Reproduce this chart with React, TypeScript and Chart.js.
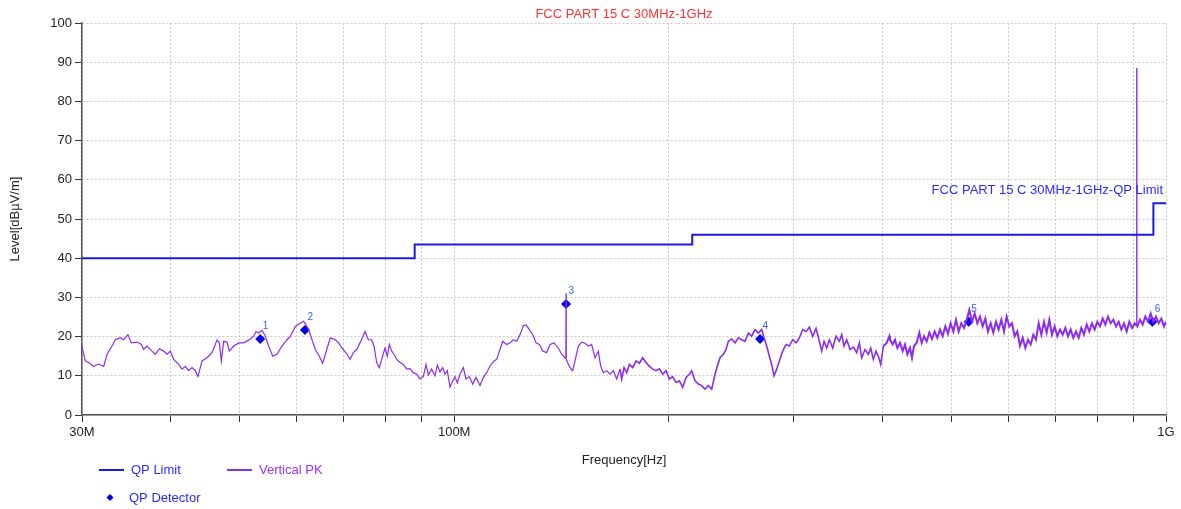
import React, { useEffect, useRef } from 'react';
import { Chart, registerables } from 'chart.js';

Chart.register(...registerables);

// ---- data ----
const PK_FREQ_MHZ = [
  30.0, 30.32, 30.65, 31.16, 31.66, 32.18, 32.53, 33.06, 33.42, 33.96, 34.33, 34.81, 35.19, 35.84, 36.35, 36.62,
  37.02, 37.62, 38.03, 38.53, 39.07, 39.49, 39.92, 40.35, 41.01, 41.46, 41.91, 42.36, 42.82, 43.28, 43.66, 44.23,
  44.95, 45.68, 46.43, 46.78, 47.08, 47.44, 47.95, 48.32, 49.0, 49.8, 50.61, 51.44, 52.28, 52.67, 53.13, 53.7,
  54.17, 54.87, 55.59, 56.37, 57.29, 58.23, 58.86, 59.82, 60.79, 61.45, 61.92, 62.45, 63.13, 63.81, 64.65, 65.35,
  65.91, 66.99, 68.08, 68.82, 69.56, 70.7,
  71.39, 72.16, 72.95, 73.74, 74.94, 75.75, 76.57, 77.15, 77.82, 78.5, 79.09, 79.95, 80.56, 81.08, 81.7, 82.31,
  83.03, 83.93, 84.84, 85.75, 86.68, 87.62, 88.57, 89.53, 90.5, 91.29, 91.98, 92.97, 93.99, 94.69, 95.51, 96.34,
  97.07, 97.8, 98.65, 99.51, 100.26, 101.02, 101.9, 103.0, 103.89, 105.02, 106.16, 107.31, 108.71, 109.89, 111.08,
  112.29, 113.75, 114.74, 115.97, 116.98, 118.51, 119.79, 121.09, 122.41, 123.73, 125.08, 126.16, 127.53, 128.9,
  130.3, 131.71, 133.14, 134.88, 136.33, 138.11, 140.06, 141.58, 143.11, 143.5, 143.6, 143.7, 144.2, 145.45,
  146.71, 147.82, 149.43, 151.05, 152.68, 154.34, 156.01, 157.7, 159.41, 160.61, 162.0, 163.76, 165.54, 167.33,
  169.15,
  171.0, 171.92, 173.22, 174.73, 176.25, 178.16, 180.08, 182.03, 184.0, 186.01, 188.03, 190.05, 192.12, 194.2,
  196.31, 198.43, 200.58, 202.75, 204.96, 207.18, 209.42, 211.7, 213.99, 215.61, 217.96, 220.32, 222.69, 225.12,
  227.55, 230.01, 232.51, 234.27, 236.3, 238.87, 240.94, 242.77, 245.4, 248.05, 250.74, 253.46, 256.21, 258.98,
  261.78, 264.64, 267.5, 270.4, 272.47, 274.83, 277.21, 279.29, 281.41, 283.86, 286.31, 289.42, 292.55, 295.73,
  298.94, 302.19, 305.46, 308.76, 312.11, 315.5, 318.92, 322.37, 325.86, 328.34, 330.82, 333.69, 336.58, 340.22,
  343.92, 347.63, 350.28, 352.93, 355.99, 359.84, 363.75, 367.68, 370.86, 373.69, 377.74, 381.83, 384.72, 388.05,
  391.42, 394.39, 397.37, 400.81, 405.17, 408.67,
  409.5, 413.05, 416.19, 419.33, 422.97, 426.65, 429.85, 433.13, 436.86, 439.68, 442.55, 446.4, 450.29, 453.69,
  457.12, 461.1, 465.07, 469.12, 473.18, 477.27, 481.41, 485.54, 489.76, 494.02, 498.28, 502.62, 506.96, 511.34,
  515.81, 520.27, 524.77, 529.32, 533.91, 538.53, 543.2, 547.87, 552.62, 557.41, 562.24, 567.12, 572.03, 576.99,
  581.98, 587.02, 592.1, 597.21, 602.42, 607.62, 612.9, 618.22, 623.59, 628.99, 634.44, 639.93, 645.45, 651.06,
  656.72, 662.41, 668.14, 673.91, 679.77, 685.63, 691.56, 697.58, 703.6, 709.75, 715.89, 722.07, 728.34, 734.64,
  740.99, 747.42, 753.89, 760.4, 767.0, 773.63, 780.34, 787.1, 793.9, 800.78, 807.74, 814.74, 821.78, 828.91,
  836.08, 843.32, 850.65, 857.98, 865.48, 872.97, 880.51, 888.12, 895.82, 903.6, 908.8, 909.5, 910.2, 911.42,
  919.33, 927.27, 935.34, 943.45, 951.6, 959.83, 968.18, 976.58, 985.05, 993.57, 1000.0,
];

const PK_LEVEL = [
  17.5, 13.8, 13.4, 12.4, 13.0, 12.4, 15.5, 17.6, 19.2, 19.7, 19.2, 20.5, 18.4, 18.6, 18.0, 16.7,
  17.6, 16.3, 15.5, 16.9, 16.3, 15.5, 16.3, 14.2, 12.9, 11.7, 12.4, 11.3, 12.1, 11.3, 9.8, 13.8,
  14.6, 15.9, 19.1, 18.4, 13.8, 18.8, 18.6, 16.3, 17.6, 18.4, 18.4, 19.1, 20.1, 21.3, 20.9, 21.6,
  20.5, 17.6, 15.0, 15.5, 17.6, 19.2, 20.1, 22.6, 23.4, 23.9, 23.0, 21.8, 19.2, 16.7, 15.0, 13.2,
  15.5, 19.7, 19.2, 18.4, 17.1, 15.5,
  14.2, 15.9, 16.7, 18.4, 21.3, 19.2, 19.2, 17.6, 13.4, 12.1, 14.2, 17.1, 15.0, 18.0, 16.3, 15.5,
  14.2, 13.4, 12.9, 11.7, 11.8, 10.8, 10.4, 9.2, 9.8, 12.9, 10.2, 11.7, 10.0, 12.7, 11.0, 12.1,
  10.4, 11.3, 7.1, 8.7, 9.8, 8.2, 10.4, 12.1, 9.2, 9.8, 7.9, 9.6, 7.5, 9.6, 10.8,
  12.5, 13.8, 14.2, 16.7, 18.8, 18.0, 18.4, 19.2, 18.8, 20.5, 22.8, 23.0, 21.8, 20.5,
  18.4, 18.0, 16.3, 15.9, 18.0, 18.4, 17.1, 15.5, 14.6, 14.4, 31.0, 14.2, 13.5, 12.1,
  11.3, 13.8, 17.6, 18.6, 18.3, 17.6, 18.0, 14.6, 16.3, 12.5, 10.8, 11.3, 10.4, 11.3,
  9.2,
  11.7, 9.2, 12.1, 10.8, 12.9, 12.1, 13.8, 13.2, 14.6, 13.4, 12.4, 11.7, 11.3, 11.8,
  10.4, 11.3, 9.2, 9.8, 8.3, 8.7, 7.1, 9.6, 10.4, 11.3, 8.7, 7.9, 7.5, 6.6,
  7.5, 6.6, 10.4, 12.5, 14.6, 15.5, 16.7, 18.8, 19.4, 18.4, 19.7, 19.2, 18.8, 20.9,
  20.1, 21.8, 20.9, 21.8, 19.7, 17.6, 15.0, 12.9, 10.0, 11.7, 13.8, 16.3, 18.0, 17.6,
  19.2, 18.4, 19.7, 21.8, 21.3, 22.4, 20.1, 22.1, 18.8, 16.3, 18.8, 17.1, 19.2, 17.1,
  20.1, 18.8, 20.5, 17.6, 19.2, 16.7, 17.3, 15.9, 18.4, 14.6, 16.7, 15.5, 17.1, 14.2,
  16.3, 15.0, 12.9, 17.6, 18.4, 20.1,
  19.2, 18.0, 19.2, 17.1, 18.4, 16.3, 18.0, 15.5, 17.1, 14.6, 17.6, 18.4, 21.0, 18.4,
  20.1, 18.8, 21.0, 19.4, 21.3, 19.7, 21.8, 20.1, 22.6, 20.7, 23.4, 21.3, 24.3, 21.3,
  23.4, 22.2, 24.3, 26.8, 23.8, 25.9, 23.4, 25.1, 22.6, 24.6, 21.3, 23.4, 21.0, 23.8,
  21.8, 24.3, 21.3, 25.1, 22.6, 23.4, 20.1, 21.3, 17.6, 19.7, 17.1, 19.2, 18.0, 20.5,
  19.2, 23.4, 20.5, 23.8, 21.0, 24.3, 20.5, 22.6, 20.1, 21.8, 20.5, 22.2, 20.1, 21.8,
  19.7, 21.3, 19.7, 22.2, 20.5, 23.1, 21.3, 23.4, 21.8, 23.8, 22.6, 24.6, 23.1, 25.1,
  23.4, 24.3, 22.6, 23.8, 21.8, 23.4, 21.3, 23.8, 22.2, 23.4, 22.8, 88.5, 22.8, 22.6,
  24.3, 23.1, 25.1, 23.8, 25.9, 23.8, 25.1, 23.4, 24.6, 22.6, 23.8,
];

const LIMIT_FREQ_MHZ = [30, 88, 88, 216, 216, 960, 960, 1000];
const LIMIT_LEVEL = [40, 40, 43.5, 43.5, 46, 46, 54, 54];

const QP_FREQ_MHZ = [53.4, 61.7, 143.6, 269.0, 528.2, 956.8];
const QP_LEVEL = [19.4, 21.7, 28.3, 19.4, 23.8, 23.8];
const QP_NUMBERS = ['1', '2', '3', '4', '5', '6'];

const X_TICKS = [30, 40, 50, 60, 70, 80, 90, 100, 200, 300, 400, 500, 600, 700, 800, 900, 1000];
const X_TICK_TEXT: Record<number, string> = { 30: '30M', 100: '100M', 1000: '1G' };
const Y_TICKS = [0, 10, 20, 30, 40, 50, 60, 70, 80, 90, 100];

const TITLE = 'FCC PART 15 C 30MHz-1GHz';
const LIMIT_NAME = 'FCC PART 15 C 30MHz-1GHz-QP Limit';
const X_TITLE = 'Frequency[Hz]';
const Y_TITLE = 'Level[dBµV/m]';
const LEGEND_NAMES = ['QP Limit', 'Vertical PK', 'QP Detector'];

const FONT = '"Liberation Sans", Arial, Helvetica, sans-serif';
const FS = 13;
const C_LIMIT = '#1a1ae6';
const C_PK = '#8c2cf0';
const C_QP = '#0000e6';

const overlayPlugin = {
  id: 'overlay',
  afterDraw(chart: any) {
    const ctx = chart.ctx as CanvasRenderingContext2D;
    const ca = chart.chartArea;
    const xs = chart.scales.x;
    const ys = chart.scales.y;
    ctx.save();

    // title
    ctx.font = `${FS}px ${FONT}`;
    ctx.fillStyle = '#ff3333';
    ctx.textAlign = 'center';
    ctx.textBaseline = 'middle';
    ctx.fillText(TITLE, (ca.left + ca.right) / 2, 14);

    // axis titles
    ctx.fillStyle = '#222';
    ctx.fillText(X_TITLE, (ca.left + ca.right) / 2, 460);
    ctx.save();
    ctx.translate(15, (ca.top + ca.bottom) / 2);
    ctx.rotate(-Math.PI / 2);
    ctx.fillText(Y_TITLE, 0, 0);
    ctx.restore();

    // limit label
    ctx.fillStyle = '#2a2aff';
    ctx.textAlign = 'right';
    ctx.fillText(LIMIT_NAME, xs.getPixelForValue(1000) - 3, ys.getPixelForValue(54) - 13);

    // marker numbers
    const meta = chart.getDatasetMeta(2);
    ctx.font = `10px ${FONT}`;
    ctx.fillStyle = '#3f5bff';
    ctx.textAlign = 'left';
    meta.data.forEach((el: any, i: number) => {
      ctx.fillText(QP_NUMBERS[i], el.x + 2.5, el.y - 12.5);
    });

    // legend
    ctx.font = `${FS}px ${FONT}`;
    ctx.lineWidth = 2;
    ctx.strokeStyle = C_LIMIT;
    ctx.beginPath();
    ctx.moveTo(99, 470);
    ctx.lineTo(124, 470);
    ctx.stroke();
    ctx.fillStyle = '#2a2aff';
    ctx.fillText(LEGEND_NAMES[0], 131, 470);

    ctx.strokeStyle = C_PK;
    ctx.beginPath();
    ctx.moveTo(227, 470);
    ctx.lineTo(252, 470);
    ctx.stroke();
    ctx.fillStyle = '#9b30ff';
    ctx.fillText(LEGEND_NAMES[1], 259, 470);

    ctx.fillStyle = C_QP;
    ctx.beginPath();
    ctx.moveTo(110, 494);
    ctx.lineTo(113.5, 497.5);
    ctx.lineTo(110, 501);
    ctx.lineTo(106.5, 497.5);
    ctx.closePath();
    ctx.fill();
    ctx.fillStyle = '#2a2aff';
    ctx.fillText(LEGEND_NAMES[2], 129, 498);

    ctx.restore();
  },
};

export default function App() {
  const canvasRef = useRef<HTMLCanvasElement | null>(null);

  useEffect(() => {
    if (!canvasRef.current) return;
    const pk = PK_FREQ_MHZ.map((f, i) => ({ x: f, y: PK_LEVEL[i] }));
    const lim = LIMIT_FREQ_MHZ.map((f, i) => ({ x: f, y: LIMIT_LEVEL[i] }));
    const qp = QP_FREQ_MHZ.map((f, i) => ({ x: f, y: QP_LEVEL[i] }));

    const chart = new Chart(canvasRef.current, {
      type: 'line',
      data: {
        datasets: [
          {
            label: LEGEND_NAMES[0],
            data: lim,
            borderColor: C_LIMIT,
            borderWidth: 2,
            pointRadius: 0,
            tension: 0,
          },
          {
            label: LEGEND_NAMES[1],
            data: pk,
            borderColor: C_PK,
            borderWidth: 1.2,
            pointRadius: 0,
            tension: 0,
            segment: {
              borderWidth: (c: any) => {
                const f = c.p0.parsed.x;
                const spike = Math.abs(c.p0.parsed.y - c.p1.parsed.y) > 30;
                if (spike) return 1.4;
                return f >= 400 ? 2 : f >= 170 ? 1.6 : 1.2;
              },
            },
          },
          {
            label: LEGEND_NAMES[2],
            data: qp,
            showLine: false,
            pointStyle: 'rectRot',
            pointRadius: 5,
            pointBackgroundColor: C_QP,
            pointBorderColor: C_QP,
            pointBorderWidth: 0,
          },
        ],
      } as any,
      options: {
        animation: false,
        responsive: true,
        maintainAspectRatio: false,
        layout: { padding: { top: 23, right: 15, left: 0, bottom: 0 } },
        plugins: {
          legend: { display: false },
          tooltip: { enabled: false },
          title: { display: false },
        },
        scales: {
          x: {
            type: 'logarithmic',
            min: 30,
            max: 1000,
            afterBuildTicks: (scale: any) => {
              scale.ticks = X_TICKS.map((v) => ({ value: v }));
            },
            afterFit: (scale: any) => {
              scale.height = 94;
            },
            ticks: {
              autoSkip: false,
              maxRotation: 0,
              padding: 3,
              color: '#222',
              font: { family: FONT, size: FS },
              callback: (v: any) => X_TICK_TEXT[Number(v)] ?? '',
            },
            grid: {
              color: '#c8c8c8',
              lineWidth: 1,
              tickLength: 7,
              tickColor: '#333',
              tickBorderDash: [],
              tickWidth: 1,
            } as any,
            border: { color: '#555', width: 1.5, dash: [2, 2] } as any,
          },
          y: {
            type: 'linear',
            min: 0,
            max: 100,
            afterBuildTicks: (scale: any) => {
              scale.ticks = Y_TICKS.map((v) => ({ value: v }));
            },
            afterFit: (scale: any) => {
              scale.width = 82;
            },
            ticks: {
              padding: 3,
              color: '#222',
              font: { family: FONT, size: FS },
            },
            grid: {
              color: '#c8c8c8',
              lineWidth: 1,
              tickLength: 7,
              tickColor: '#333',
              tickBorderDash: [],
              tickWidth: 1,
            } as any,
            border: { color: '#555', width: 1.5, dash: [2, 2] } as any,
          },
        },
      } as any,
      plugins: [overlayPlugin],
    });
    return () => chart.destroy();
  }, []);

  return (
    <div style={{ position: 'absolute', left: 0, top: 0, width: 1181, height: 509, background: '#fff' }}>
      <canvas ref={canvasRef} />
    </div>
  );
}
